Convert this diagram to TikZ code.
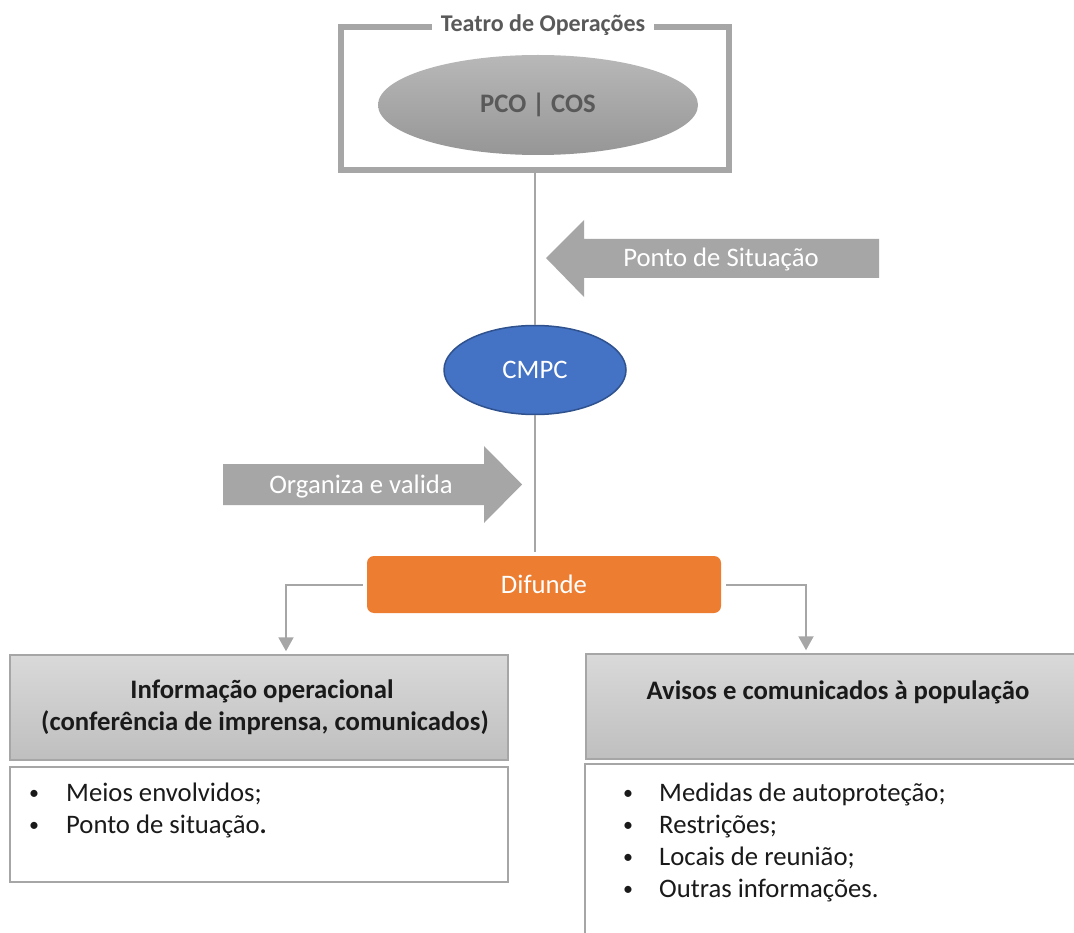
\documentclass[tikz,border=0pt]{standalone}
\usepackage{fontspec}
\setmainfont{Carlito}
\usetikzlibrary{shapes.geometric,arrows.meta,calc}
\definecolor{gline}{HTML}{A6A6A6}
\definecolor{tgray}{HTML}{595959}
\definecolor{elltop}{HTML}{B8B8B8}
\definecolor{ellbot}{HTML}{969696}
\definecolor{cmpcblue}{HTML}{4472C4}
\definecolor{cmpcedge}{HTML}{2F528F}
\definecolor{orng}{HTML}{ED7D31}
\definecolor{hdtop}{HTML}{D9D9D9}
\definecolor{hdbot}{HTML}{BFBFBF}
\definecolor{txtdark}{HTML}{1A1A1A}
\tikzset{
  conn/.style={draw=gline, line width=2pt},
  hdr/.style={draw=gline, line width=1.5pt, top color=hdtop, bottom color=hdbot,
    align=center, text=txtdark, font=\bfseries\fontsize{26.7}{32}\selectfont},
  wbox/.style={draw=gline, line width=2.5pt, fill=white},
  bul/.style={anchor=base, inner sep=0pt, text=txtdark, font=\fontsize{20}{32}\selectfont},
  itemtxt/.style={anchor=base west, inner sep=0pt, text=txtdark, font=\fontsize{26.7}{32}\selectfont},
  wtxt/.style={anchor=base, inner sep=0pt, text=white, font=\fontsize{26.7}{32}\selectfont}
}
\begin{document}
\begin{tikzpicture}[x=1pt,y=-1pt]
\useasboundingbox (0,0) rectangle (1074,933);
\fill[white] (0,0) rectangle (1074,933);

% top frame
\node[draw=gline, line width=5.5pt, minimum width=388pt, minimum height=143pt, inner sep=0pt] (frame) at (535,98.5) {};
\node[anchor=base, fill=white, text=tgray, inner xsep=9pt, inner ysep=3pt,
  font=\bfseries\fontsize{24}{28}\selectfont] (title) at (543,32) {Teatro de Operações};
\node[ellipse, minimum width=320pt, minimum height=100pt, top color=elltop, bottom color=ellbot,
  text=tgray, font=\bfseries\fontsize{26.7}{32}\selectfont] (pco) at (538,105) {PCO | COS};

% CMPC
\node[ellipse, fill=cmpcblue, draw=cmpcedge, line width=1.5pt, minimum width=182pt, minimum height=89pt,
  text=white, font=\fontsize{26.7}{32}\selectfont] (cmpc) at (535,370) {CMPC};

% Difunde
\node[rounded corners=7pt, fill=orng, minimum width=354pt, minimum height=57pt,
  text=white, font=\fontsize{26.7}{32}\selectfont] (dif) at (544,584.5) {Difunde};

% vertical connectors
\draw[conn] (frame.south -| cmpc.north) -- (cmpc.north);
\draw[conn, shorten >=4pt] (cmpc.south) -- (dif.north -| cmpc.south);

% block arrows
\fill[gline] (546,258) -- (584,220) -- (584,239) -- (879,239) -- (879,278) -- (584,278) -- (584,297) -- cycle;
\node[wtxt] (pds) at (721,267) {Ponto de Situação};
\fill[gline] (223,464) -- (484,464) -- (484,446) -- (522,484.5) -- (484,523) -- (484,505) -- (223,505) -- cycle;
\node[wtxt] (org) at (361,493) {Organiza e valida};

% headers
\node[hdr, minimum width=498pt, minimum height=105pt] (hdrL) at (259,707.5)
  {\hspace*{6pt}Informação operacional\\\hspace*{12pt}(conferência de imprensa, comunicados)};
\node[hdr, minimum width=504pt, minimum height=105pt] (hdrR) at (838,706.5)
  {Avisos e comunicados à população\\\mbox{}};

% branch connectors
\coordinate (cl) at (286,0);
\coordinate (cr) at (806,0);
\draw[conn, shorten >=3pt, -{Triangle[width=15pt,length=14pt]}] ([xshift=-4pt]dif.west) -| (cl |- hdrL.north);
\draw[conn, shorten >=3pt, -{Triangle[width=15pt,length=14pt]}] ([xshift=5pt]dif.east) -| (cr |- hdrR.north);

% white boxes
\node[wbox, minimum width=498pt, minimum height=115pt] (boxL) at (259,824.5) {};
\node[wbox, minimum width=505pt, minimum height=186pt] (boxR) at (837.5,857) {};

% left list
\node[bul] (bL1) at (34,799) {•};
\node[itemtxt] (iL1) at (66,801) {Meios envolvidos;};
\node[bul] (bL2) at (34,831) {•};
\node[itemtxt] (iL2) at (66,833) {Ponto de situação\textbf{.}};

% right list
\node[bul] (bR1) at (628,799) {•};
\node[itemtxt] (iR1) at (659,801) {Medidas de autoproteção;};
\node[bul] (bR2) at (628,831) {•};
\node[itemtxt] (iR2) at (659,833) {Restrições;};
\node[bul] (bR3) at (628,863) {•};
\node[itemtxt] (iR3) at (659,865) {Locais de reunião;};
\node[bul] (bR4) at (628,895) {•};
\node[itemtxt] (iR4) at (659,897) {Outras informações.};
\end{tikzpicture}
\end{document}
